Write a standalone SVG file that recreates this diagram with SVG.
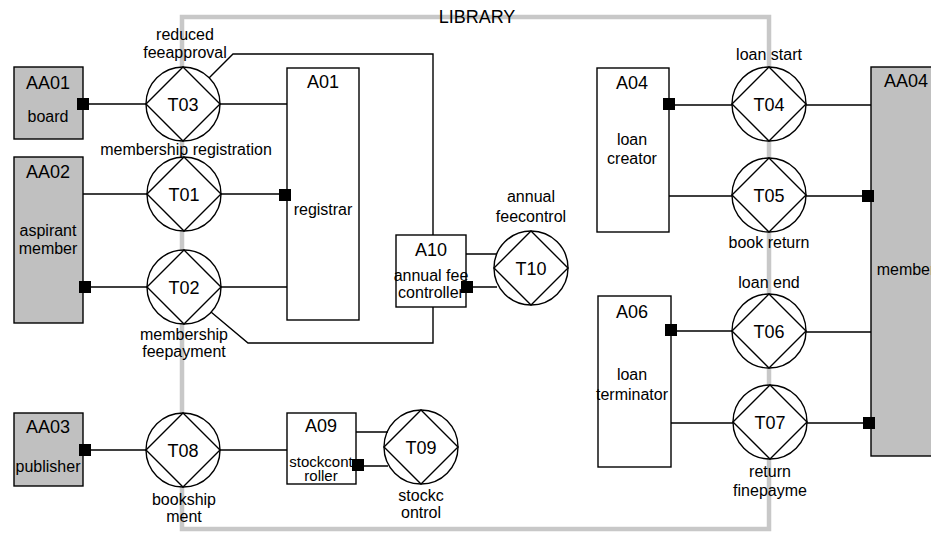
<svg xmlns="http://www.w3.org/2000/svg" width="931" height="533" viewBox="0 0 931 533">
<style>
text{font-family:"Liberation Sans",Arial,sans-serif;fill:#000;text-anchor:middle}
.id{font-size:18px}
.lb{font-size:16px}
.sm{font-size:15px}
.actor{fill:#c0c0c0;stroke:#000;stroke-width:1.4}
.box{fill:#fff;stroke:#000;stroke-width:1.4}
.tc{fill:#fff;stroke:#000;stroke-width:1.4}
.dm{fill:none;stroke:#000;stroke-width:1.4}
.ln{fill:none;stroke:#000;stroke-width:1.4}
.lib{fill:none;stroke:#c8c8c8;stroke-width:4.5}
</style>
<defs>
<g id="tr"><circle cx="0" cy="0" r="37" class="tc"/><polygon points="0,-37 37,0 0,37 -37,0" class="dm"/></g>
<rect id="sq" x="-6" y="-6" width="12" height="12" fill="#000"/>
</defs>
<g id="library">
<rect x="182" y="17" width="587" height="512" class="lib"/>
<text x="477" y="23" class="id">LIBRARY</text>
</g>
<g id="AA01"><rect x="14" y="67" width="69" height="72" class="actor"/><text x="48" y="89" class="id">AA01</text><text x="48" y="122" class="lb">board</text></g>
<g id="AA02"><rect x="14" y="157" width="69" height="166" class="actor"/><text x="48" y="178" class="id">AA02</text><text x="48" y="236" class="lb">aspirant</text><text x="48" y="254" class="lb">member</text></g>
<g id="AA03"><rect x="14" y="413" width="69" height="73" class="actor"/><text x="48" y="433" class="id">AA03</text><text x="48" y="472" class="lb">publisher</text></g>
<g id="AA04"><rect x="871" y="67" width="72" height="389" class="actor"/><text x="906" y="87" class="id">AA04</text><text x="906" y="275" class="lb">member</text></g>
<g id="A01"><rect x="287" y="68" width="72" height="252" class="box"/><text x="323" y="88" class="id">A01</text><text x="323" y="215" class="lb">registrar</text></g>
<g id="A10"><rect x="396" y="235" width="70" height="72" class="box"/><text x="431" y="256" class="id">A10</text><text x="431" y="281" class="lb">annual fee</text><text x="431" y="298" class="lb">controller</text></g>
<g id="A09"><rect x="287" y="413" width="69" height="71" class="box"/><text x="321" y="432" class="id">A09</text><text x="321" y="467" class="sm">stockcont</text><text x="321" y="481" class="sm">roller</text></g>
<g id="A04"><rect x="597" y="68" width="72" height="164" class="box"/><text x="632" y="89" class="id">A04</text><text x="632" y="145" class="lb">loan</text><text x="632" y="164" class="lb">creator</text></g>
<g id="A06"><rect x="598" y="296" width="73" height="171" class="box"/><text x="632" y="318" class="id">A06</text><text x="632" y="380" class="lb">loan</text><text x="632" y="400" class="lb">terminator</text></g>
<g id="T03"><use href="#tr" x="183" y="104"/><text x="183" y="111" class="id">T03</text><text x="185" y="40" class="lb">reduced</text><text x="185" y="58" class="lb">feeapproval</text></g>
<g id="T01"><use href="#tr" x="184" y="194"/><text x="184" y="201" class="id">T01</text><text x="186" y="155" class="lb">membership registration</text></g>
<g id="T02"><use href="#tr" x="184" y="287"/><text x="184" y="294" class="id">T02</text><text x="184" y="340" class="lb">membership</text><text x="184" y="357" class="lb">feepayment</text></g>
<g id="T08"><use href="#tr" x="183" y="450"/><text x="183" y="457" class="id">T08</text><text x="184" y="505" class="lb">bookship</text><text x="184" y="522" class="lb">ment</text></g>
<g id="T09"><use href="#tr" x="421" y="447"/><text x="421" y="454" class="id">T09</text><text x="421" y="501" class="lb">stockc</text><text x="421" y="518" class="lb">ontrol</text></g>
<g id="T10"><use href="#tr" x="531" y="268"/><text x="531" y="275" class="id">T10</text><text x="531" y="202" class="lb">annual</text><text x="531" y="222" class="lb">feecontrol</text></g>
<g id="T04"><use href="#tr" x="769" y="104"/><text x="769" y="111" class="id">T04</text><text x="769" y="60" class="lb">loan start</text></g>
<g id="T05"><use href="#tr" x="769" y="195"/><text x="769" y="202" class="id">T05</text><text x="769" y="248" class="lb">book return</text></g>
<g id="T06"><use href="#tr" x="769" y="331"/><text x="769" y="338" class="id">T06</text><text x="769" y="288" class="lb">loan end</text></g>
<g id="T07"><use href="#tr" x="770" y="422"/><text x="770" y="429" class="id">T07</text><text x="770" y="477" class="lb">return</text><text x="770" y="496" class="lb">finepayme</text></g>
<g id="connectors">
<path class="ln" d="M83 104H146M220 104H287"/>
<path class="ln" d="M209 78L233 54H433V235"/>
<path class="ln" d="M83 194H147M221 194H287"/>
<path class="ln" d="M83 287H147M221 287H287"/>
<path class="ln" d="M211 312L248 343H433V307"/>
<path class="ln" d="M466 254H497M466 287H497"/>
<path class="ln" d="M83 450H146M220 450H287"/>
<path class="ln" d="M356 432H388M356 466H388"/>
<path class="ln" d="M669 105H732M806 105H871"/>
<path class="ln" d="M669 196H732M806 196H871"/>
<path class="ln" d="M671 331H732M806 332H871"/>
<path class="ln" d="M671 423H733M807 423H871"/>
<use href="#sq" x="83" y="104"/>
<use href="#sq" x="285" y="195"/>
<use href="#sq" x="85" y="287"/>
<use href="#sq" x="467" y="287"/>
<use href="#sq" x="85" y="450"/>
<use href="#sq" x="358" y="465"/>
<use href="#sq" x="669" y="104"/>
<use href="#sq" x="868" y="196"/>
<use href="#sq" x="671" y="330"/>
<use href="#sq" x="869" y="423"/>
</g>
</svg>
